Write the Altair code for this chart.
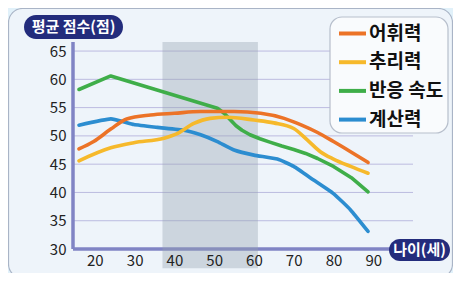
import altair as alt
import pandas as pd

FONT = "Noto Sans CJK KR"

series_names = ["어휘력", "추리력", "반응 속도", "계산력"]
series_colors = ["#ec7327", "#f6b92b", "#3fae49", "#2c8dd0"]

ages_vocab = [16, 19.7, 24, 28, 34, 40, 46.6, 55, 61.7, 67.6, 72, 76, 80, 84.3, 88.7]
vals_vocab = [47.7, 49.0, 51.2, 53.0, 53.7, 54.0, 54.3, 54.3, 54.0, 53.1, 51.9, 50.6, 49.0, 47.2, 45.3]

ages_reason = [16, 24, 29.8, 37.4, 40.7, 44.9, 49, 53.3, 60, 65, 70, 73.4, 76.7, 80, 84.3, 88.7]
vals_reason = [45.6, 47.9, 48.8, 49.6, 50.4, 52.2, 53.1, 53.3, 52.8, 52.3, 51.3, 49.3, 47.2, 45.9, 44.6, 43.4]

ages_speed = [16, 24, 50.8, 52.5, 54, 55.5, 57, 59, 61.5, 64, 67, 70, 73, 76, 80, 84.5, 88.7]
vals_speed = [58.2, 60.6, 54.9, 54.0, 52.9, 51.8, 51.0, 50.2, 49.5, 48.9, 48.2, 47.6, 46.9, 46.0, 44.6, 42.6, 40.1]

ages_calc = [16, 24, 29.8, 35.7, 42.4, 46.6, 50.8, 55, 60, 65.9, 70, 75, 80, 84.3, 88.7]
vals_calc = [51.9, 53.0, 52.0, 51.5, 51.0, 50.2, 49.0, 47.5, 46.6, 45.9, 44.6, 42.2, 39.8, 36.9, 33.1]

x_ticks = [20, 30, 40, 50, 60, 70, 80, 90]
y_ticks = [30, 35, 40, 45, 50, 55, 60, 65]
grid_values = [35, 40, 45, 50, 55, 60, 65]

shade_start, shade_end = 37, 61
X_MIN, X_MAX, X_AXIS_END = 14.5, 100, 94.3
Y_MIN, Y_MAX, SHADE_BOTTOM = 30, 66.6, 26.6


def frame(pairs):
    rows = []
    for name, ages, vals in pairs:
        for a, v in zip(ages, vals):
            rows.append({"series": name, "age": a, "score": v})
    return pd.DataFrame(rows)


df_smooth = frame([
    (series_names[0], ages_vocab, vals_vocab),
    (series_names[1], ages_reason, vals_reason),
])
df_sharp = frame([(series_names[2], ages_speed, vals_speed)])
df_calc = frame([(series_names[3], ages_calc, vals_calc)])

xs = alt.Scale(domain=[X_MIN, X_MAX], nice=False, zero=False)
ys = alt.Scale(domain=[Y_MIN, Y_MAX], nice=False, zero=False)

x_axis = alt.Axis(values=x_ticks, domain=False, ticks=False, grid=False, title=None,
                  labelFontSize=15, labelColor="#222222", labelFont=FONT,
                  labelPadding=4, labelOverlap=False, zindex=1)
y_axis = alt.Axis(values=y_ticks, domain=False, ticks=False, grid=False, title=None,
                  labelFontSize=15, labelColor="#222222", labelFont=FONT,
                  labelPadding=7, labelOverlap=False, zindex=1)

W, H = 340, 207

panel = alt.Chart(pd.DataFrame({"a": [0]})).mark_rect(
    fill="#eef4fa", stroke="#a9b4c6", strokeWidth=1.2, cornerRadius=14
).encode(x=alt.value(-64.5), x2=alt.value(379.5), y=alt.value(-33.5), y2=alt.value(236))

grid = alt.Chart(pd.DataFrame({"g": grid_values})).mark_rule(
    color="#bcbbe0", strokeWidth=1
).encode(
    y=alt.Y("g:Q", scale=ys, axis=y_axis),
    x=alt.datum(X_MIN, scale=xs, axis=x_axis), x2=alt.datum(X_MAX),
)

legend_box = alt.Chart(pd.DataFrame({"a": [0]})).mark_rect(
    fill="#f9fbfd", stroke="#b7bfcc", strokeWidth=1.2, cornerRadius=12
).encode(x=alt.value(257), x2=alt.value(375), y=alt.value(-25), y2=alt.value(91))

xaxis_line = alt.Chart(pd.DataFrame({"a": [0]})).mark_rule(
    color="#8084c4", strokeWidth=3.5
).encode(
    x=alt.datum(X_MIN, scale=xs, axis=x_axis), x2=alt.datum(X_AXIS_END),
    y=alt.datum(Y_MIN, scale=ys, axis=y_axis),
)
yaxis_line = alt.Chart(pd.DataFrame({"a": [0]})).mark_rule(
    color="#8084c4", strokeWidth=3.5
).encode(
    x=alt.datum(X_MIN, scale=xs, axis=x_axis),
    y=alt.datum(Y_MIN, scale=ys, axis=y_axis), y2=alt.datum(Y_MAX),
)

shade = alt.Chart(pd.DataFrame({"s": [shade_start], "e": [shade_end]})).mark_rect(
    color="#97a3b0", opacity=0.38
).encode(
    x=alt.X("s:Q", scale=xs, axis=x_axis), x2="e:Q",
    y=alt.datum(SHADE_BOTTOM, scale=ys, axis=y_axis), y2=alt.datum(Y_MAX),
)

x_enc = alt.X("age:Q", scale=xs, axis=x_axis)
y_enc = alt.Y("score:Q", scale=ys, axis=y_axis)
color_enc = alt.Color("series:N",
                      scale=alt.Scale(domain=series_names, range=series_colors),
                      sort=series_names,
                      legend=alt.Legend(title=None, orient="none", legendX=264, legendY=-24,
                                        symbolType="stroke", symbolSize=729, symbolStrokeWidth=4,
                                        labelFontSize=19, labelFontWeight="bold", labelFont=FONT,
                                        labelColor="#111111", rowPadding=2.7, labelOffset=1,
                                        padding=0))

lines_smooth = alt.Chart(df_smooth).mark_line(
    interpolate="monotone", strokeWidth=3.6, strokeCap="round"
).encode(x=x_enc, y=y_enc, color=color_enc, detail="series:N")
lines_speed = alt.Chart(df_sharp).mark_line(
    interpolate="linear", strokeWidth=3.6, strokeCap="round", strokeJoin="round"
).encode(x=x_enc, y=y_enc, color=color_enc, detail="series:N")
lines_calc = alt.Chart(df_calc).mark_line(
    interpolate="cardinal", tension=0.6, strokeWidth=3.6, strokeCap="round"
).encode(x=x_enc, y=y_enc, color=color_enc, detail="series:N")

pill_y = alt.Chart(pd.DataFrame({"a": [0]})).mark_rect(
    fill="#232c7c", cornerRadius=12
).encode(x=alt.value(-49), x2=alt.value(50), y=alt.value(-27), y2=alt.value(-3))
pill_y_text = alt.Chart(pd.DataFrame({"t": ["평균 점수(점)"]})).mark_text(
    color="white", fontSize=15, fontWeight="bold", font=FONT, align="center", baseline="middle"
).encode(text="t:N", x=alt.value(0.5), y=alt.value(-15))

pill_x = alt.Chart(pd.DataFrame({"a": [0]})).mark_rect(
    fill="#232c7c", cornerRadius=11
).encode(x=alt.value(316), x2=alt.value(377), y=alt.value(197), y2=alt.value(219))
pill_x_text = alt.Chart(pd.DataFrame({"t": ["나이(세)"]})).mark_text(
    color="white", fontSize=15, fontWeight="bold", font=FONT, align="center", baseline="middle"
).encode(text="t:N", x=alt.value(346.5), y=alt.value(208))

chart = alt.layer(
    panel, grid, legend_box, xaxis_line, yaxis_line, shade,
    lines_speed, lines_calc, lines_smooth,
    pill_y, pill_y_text, pill_x, pill_x_text
).properties(
    width=W, height=H,
    autosize=alt.AutoSizeParams(type="none"),
    padding={"left": 65, "top": 34, "right": 40, "bottom": 24},
    background="#e1f1fa",
).configure_view(stroke=None).configure_axis(labelOverlap=False)

chart.save("out.html", embed_options={"renderer": "svg", "actions": False})
